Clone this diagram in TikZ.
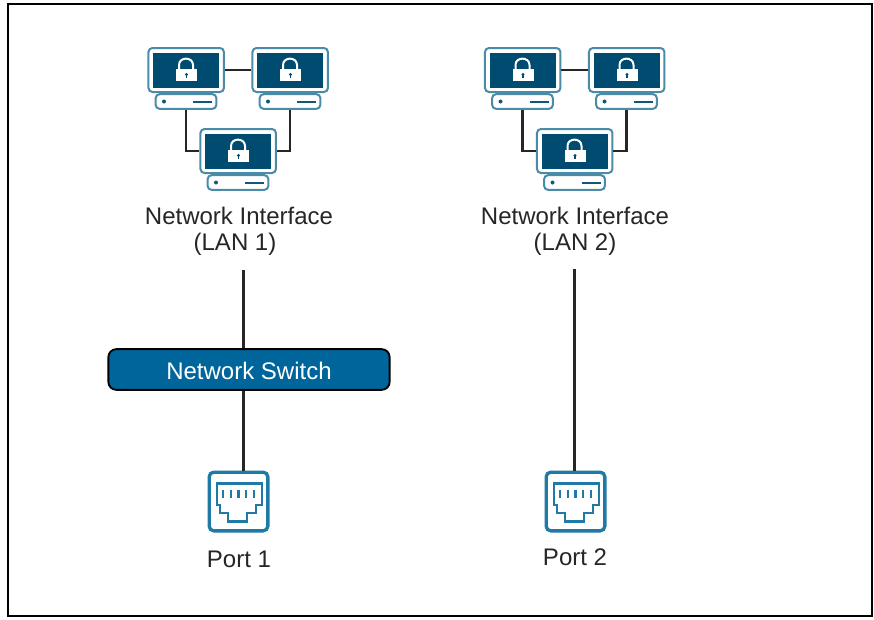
\documentclass[tikz,border=0pt]{standalone}
\usepackage{fontspec}
\setmainfont{Liberation Sans}
\definecolor{screenblue}{HTML}{004B70}
\definecolor{outlineblue}{HTML}{4A8BA8}
\definecolor{portblue}{HTML}{1F7AA5}
\definecolor{switchblue}{HTML}{00659A}
\tikzset{
  x=0.75pt,y=-0.75pt,
  wire/.style={draw=black!85,line width=1.7pt},
  label/.style={font=\fontsize{18pt}{22pt}\selectfont,text=black!85,inner sep=0pt,align=center},
  monitor/.style={draw=outlineblue,fill=white,line width=1.5pt,rounded corners=3pt,minimum width=56.6pt,minimum height=33pt,inner sep=0pt},
  baseunit/.style={draw=outlineblue,fill=white,line width=1.5pt,rounded corners=3pt,minimum width=45.6pt,minimum height=11pt,inner sep=0pt},
  pics/computer/.style={code={
    \node[monitor] (-mon) at (37.7,22) {};
    \fill[screenblue] (4.5,5) rectangle (70.5,40);
    \node[baseunit] (-base) at (37.5,53.5) {};
    \fill[screenblue!80!outlineblue] (15.5,53.5) circle (1.5pt);
    \draw[screenblue!80!outlineblue,line width=1.5pt] (44.5,53.5) -- (63.5,53.5);
    \fill[white] (27.5,21) rectangle (48.5,33);
    \draw[white,line width=1.5pt] (30.5,21) -- (30.5,17) .. controls (30.5,8.5) and (44.5,8.5) .. (44.5,17) -- (44.5,21);
    \fill[screenblue] (38,26.5) circle (1.2pt);
    \draw[screenblue,line width=0.8pt] (38,26.5) -- (38,30);
  }},
  pics/portjack/.style={code={
    \node[draw=portblue,fill=white,line width=2.5pt,rounded corners=3.5pt,minimum width=44pt,minimum height=44pt,inner sep=0pt] (-box) at (30.5,30.5) {};
    \draw[portblue,line width=2.2pt,line join=miter] (9,12.5) -- (54,12.5) -- (54,34) -- (48,34) -- (48,42) -- (39,42) -- (39,50.5) -- (20,50.5) -- (20,42) -- (12,42) -- (12,34) -- (9,34) -- cycle;
    \foreach \tx in {15,23,30.5,38,46}
      \draw[portblue,line width=2pt] (\tx,19) -- (\tx,27);
  }}
}
\begin{document}
\begin{tikzpicture}
\useasboundingbox (0,0) rectangle (874,619);
\fill[white] (0,0) rectangle (874,619);
\node[draw=black,line width=1.9pt,minimum width=648pt,minimum height=459pt,inner sep=0pt] (frame) at (440,310) {};

\pic (a1) at (148.5,48) {computer};
\pic (a2) at (252.5,48) {computer};
\pic (a3) at (200.5,129) {computer};
\pic (b1) at (485,48) {computer};
\pic (b2) at (589,48) {computer};
\pic (b3) at (537,129) {computer};

\draw[wire] (a1-mon.east) -- (a2-mon.west);
\draw[wire] (a1-base.south) |- (a3-mon.west);
\draw[wire] (a2-base.south) |- (a3-mon.east);
\draw[wire] (b1-mon.east) -- (b2-mon.west);
\draw[wire] (b1-base.south) |- (b3-mon.west);
\draw[wire] (b2-base.south) |- (b3-mon.east);

\node[label] (lan1a) at (239,216) {Network Interface};
\node[label] (lan1b) at (235,244) {(LAN 1)};
\node[label] (lan2a) at (575,216) {Network Interface};
\node[label] (lan2b) at (575,244) {(LAN 2)};
\coordinate (lan1end) at (243.5,270);
\coordinate (lan2end) at (574.5,269);

\node[draw=black,line width=1.4pt,fill=switchblue,rounded corners=6pt,minimum width=211pt,minimum height=30.5pt,inner sep=0pt] (switch) at (249,369.5) {};
\node[text=white,font=\fontsize{18pt}{22pt}\selectfont,inner sep=0pt] (switchtext) at (249,371) {Network Switch};

\pic (p1) at (208,471) {portjack};
\pic (p2) at (545,471) {portjack};

\draw[wire] (lan1end) -- (lan1end |- switch.north);
\draw[wire] (lan1end |- switch.south) -- (lan1end |- p1-box.north);
\draw[wire] (lan2end) -- (lan2end |- p2-box.north);

\node[label] (p1t) at (239,559) {Port 1};
\node[label] (p2t) at (575,557) {Port 2};
\end{tikzpicture}
\end{document}
